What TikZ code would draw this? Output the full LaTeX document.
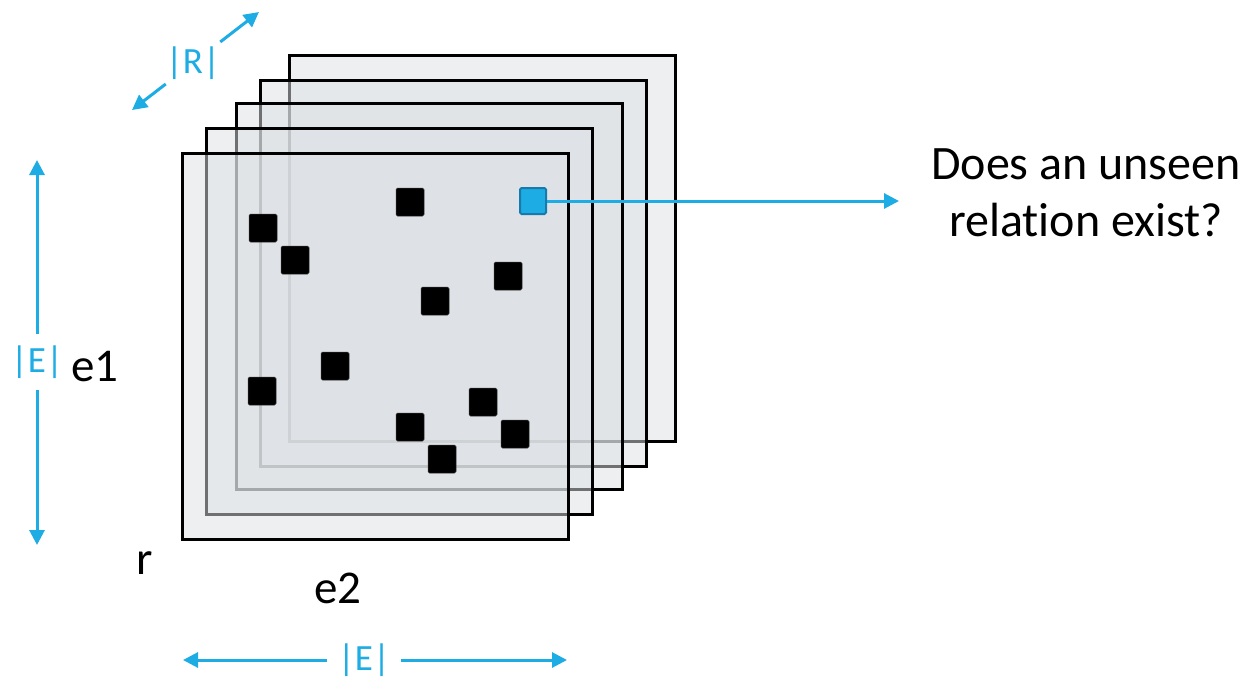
\documentclass[tikz,border=0pt]{standalone}
\usepackage{fontspec}
\setmainfont[Ligatures=NoCommon]{Carlito}
\usetikzlibrary{arrows.meta}
\usetikzlibrary{positioning}
\definecolor{fg}{rgb}{0,0,0}
\definecolor{dimblue}{RGB}{29,172,228}
\definecolor{qborder}{RGB}{22,122,172}
\definecolor{slicegray}{RGB}{221,224,228}
\tikzstyle{slice}=[draw=fg, line width=3pt, fill=slicegray, fill opacity=0.5,
minimum size=386pt, inner sep=0pt]
\tikzstyle{fact}=[fill=fg, draw=fg!80, line width=0.5pt, rounded corners=1.5pt,
minimum size=28pt, inner sep=0pt]
\tikzstyle{query}=[fact, fill=dimblue, draw=qborder, line width=2pt, minimum size=26pt]
\tikzstyle{myarrow}=[-{Triangle[length=15pt,width=15pt]}, line width=3pt, draw=dimblue]
\tikzstyle{dimlabel}=[text=dimblue, font=\fontsize{37}{44}\selectfont, inner sep=0pt]
\tikzstyle{axis}=[text=fg, font=\fontsize{47}{57}\selectfont, inner sep=0pt]

\begin{document}
\begin{tikzpicture}[x=1pt, y=-1pt]

    \useasboundingbox (0,0) rectangle (1253,678);

    % one slice per relation, back to front
    \foreach \i/\dx/\dy in {4/107/-98, 3/78/-73, 2/54/-50, 1/24/-25, 0/0/0}
        \node[slice] (slice\i) at (375+\dx, 346+\dy) {};

    \foreach \x/\y [count=\k] in {410/202, 263/228, 295/260, 508/276, 435/301,
        335/366, 262/391, 483/402, 410/427, 515/434, 442/459}
        \node[fact] (fact\k) at (\x,\y) {};

    \node[query] (query) at (533,201) {};
    \node[axis, font=\fontsize{48}{57}\selectfont, align=center] (question) at (1086,193)
        {Does an unseen\\relation exist?};
    \draw[myarrow, shorten >=32pt] (query) -- (query -| question.west);

    \node[dimlabel, minimum width=54pt, minimum height=50pt] (Rlbl) at (193,63) {|R|};
    \coordinate (Rback) at (259,12);
    \coordinate (Rfront) at (132,110);
    \draw[myarrow] (Rlbl) -- (Rback);
    \draw[myarrow] (Rlbl) -- (Rfront);

    \node[dimlabel, minimum height=55pt] (Erow) at (37,362) {|E|};
    \coordinate (rowtop) at (37,160);
    \coordinate (rowbot) at (37,545);
    \draw[myarrow] (Erow) -- (rowtop);
    \draw[myarrow] (Erow) -- (rowbot);
    \node[axis] (e1) at (95,367) {e1};

    \node[dimlabel, minimum width=73pt] (Ecol) at (364,660) {|E|};
    \coordinate (colleft) at (183,660);
    \coordinate (colright) at (567,660);
    \draw[myarrow] (Ecol) -- (colleft);
    \draw[myarrow] (Ecol) -- (colright);

    \node[axis] (r) at (145,563) {r};
    \node[axis] (e2) at (338,588) {e2};

\end{tikzpicture}
\end{document}
